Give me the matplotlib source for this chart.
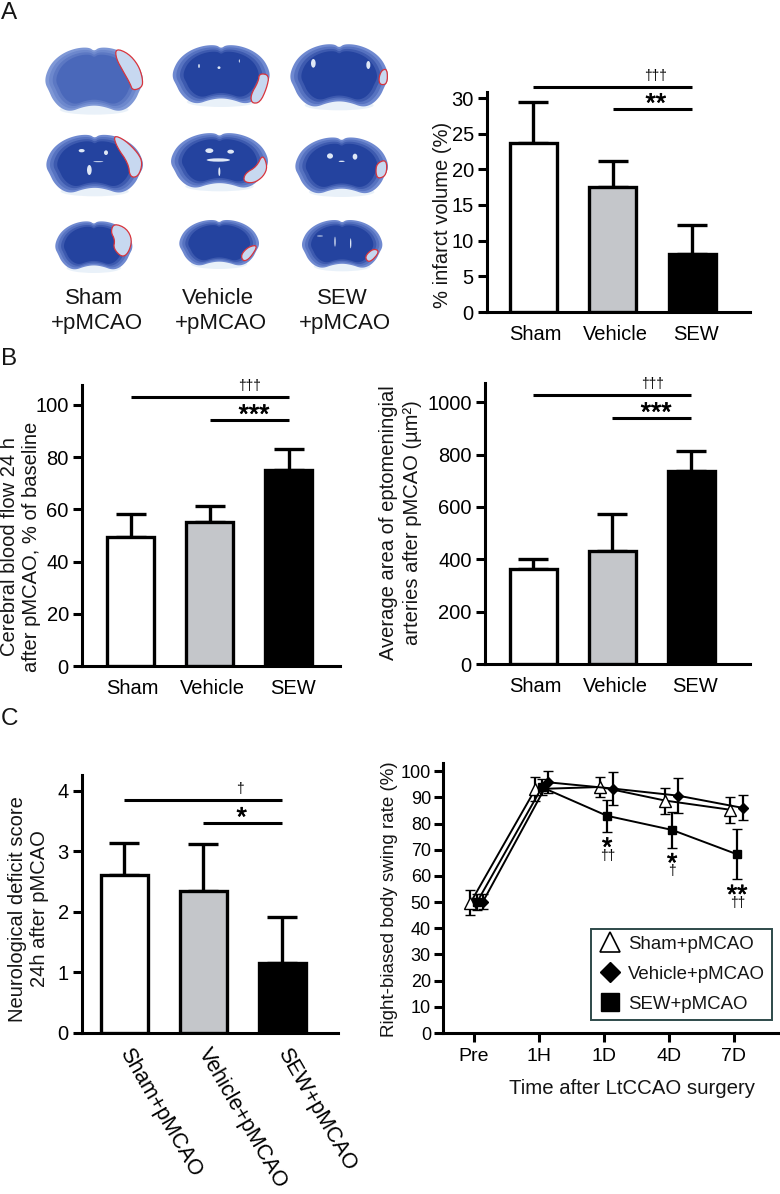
import numpy as np
import matplotlib
matplotlib.use("Agg")
import matplotlib.pyplot as plt
import matplotlib.patheffects as pe
from matplotlib.colors import to_rgb
from matplotlib.lines import Line2D
from matplotlib.patches import Ellipse, Polygon

plt.rcParams["font.family"] = ["Liberation Sans", "DejaVu Sans"]
plt.rcParams["text.color"] = "#151515"
plt.rcParams["axes.labelcolor"] = "#151515"

W, H = 780, 1194

groups = ["Sham", "Vehicle", "SEW"]
group_labels_c = ["Sham+pMCAO", "Vehicle+pMCAO", "SEW+pMCAO"]
bar_colors = ["white", "#c4c6ca", "black"]

infarct_vals = [23.7, 17.5, 8.1]
infarct_tops = [29.4, 21.2, 12.2]
flow_vals = [49.6, 55.3, 75.1]
flow_tops = [58.2, 61.4, 83.0]
area_vals = [363, 432, 739]
area_tops = [401, 575, 813]
score_vals = [2.61, 2.34, 1.155]
score_tops = [3.14, 3.12, 1.915]

times = ["Pre", "1H", "1D", "4D", "7D"]
sham_rate = [49.7, 93.2, 94.0, 88.8, 85.3]
sham_err = [4.8, 4.5, 3.8, 5.0, 4.9]
vehicle_rate = [50.2, 95.8, 93.4, 90.7, 86.0]
vehicle_err = [3.0, 4.2, 6.4, 6.6, 4.8]
sew_rate = [50.0, 93.9, 83.0, 77.6, 68.3]
sew_err = [3.0, 3.0, 6.2, 6.8, 9.6]

# brain sections, in reference pixels x3 (left, right, top, bottom, light?)
brain_boxes = [
    (135, 430, 140, 335, True), (517, 810, 133, 312, False), (870, 1165, 130, 322, False),
    (138, 430, 402, 580, False), (512, 805, 397, 565, False), (885, 1165, 410, 582, False),
    (165, 398, 662, 810, False), (537, 778, 658, 798, False), (905, 1148, 658, 805, False),
]
infarcts = [
    [(347, 145), (385, 160), (415, 195), (428, 235), (427, 262), (398, 272), (390, 250), (370, 215), (348, 175)],
    [(778, 220), (808, 225), (800, 265), (780, 308), (755, 310), (752, 285), (775, 245)],
    [(1145, 210), (1162, 207), (1162, 252), (1140, 255), (1136, 235)],
    [(340, 405), (375, 420), (415, 460), (428, 490), (415, 530), (390, 532), (385, 490), (350, 440)],
    [(788, 462), (803, 500), (790, 530), (760, 550), (730, 545), (735, 520), (770, 500)],
    [(1130, 490), (1160, 478), (1160, 525), (1135, 537), (1127, 520)],
    [(342, 670), (380, 685), (397, 720), (385, 760), (365, 772), (340, 745), (345, 720), (332, 695)],
    [(745, 740), (775, 735), (750, 775), (730, 785), (722, 765)],
    [(1120, 745), (1140, 755), (1108, 790), (1093, 770)],
]
white_spots = [
    (597, 198, 5, 12), (657, 203, 9, 8), (718, 183, 3, 10), (940, 190, 14, 26), (1105, 195, 12, 24),
    (245, 452, 18, 10), (268, 510, 14, 30), (318, 458, 12, 14), (295, 485, 30, 3),
    (628, 452, 24, 14), (692, 455, 20, 12), (655, 480, 70, 10), (658, 515, 6, 26),
    (990, 468, 18, 16), (1065, 470, 14, 18), (1025, 484, 18, 4),
    (960, 708, 18, 3), (1005, 725, 4, 30), (1052, 730, 4, 30),
]
brain_half = [(0.50, 0.07), (0.55, 0.01), (0.68, 0.02), (0.82, 0.10), (0.93, 0.24), (0.99, 0.42),
              (1.0, 0.56), (0.96, 0.68), (0.92, 0.82), (0.84, 0.95), (0.74, 1.0), (0.62, 0.93), (0.50, 0.90)]

# heavier asterisks, the plain glyph is too thin next to the reference
star_fx = [pe.withStroke(linewidth=0.5, foreground="black")]


def px_axes(left, right, top, bottom):
    ax = fig.add_axes([left / W, 1 - bottom / H, (right - left) / W, (bottom - top) / H])
    ax.patch.set_alpha(0)
    return ax


def smooth(points, rounds=3):
    pts = np.array(points, dtype=float)
    for _ in range(rounds):
        nxt = np.roll(pts, -1, axis=0)
        both = np.empty((len(pts) * 2, 2))
        both[0::2] = 0.75 * pts + 0.25 * nxt
        both[1::2] = 0.25 * pts + 0.75 * nxt
        pts = both
    return pts


def style_axes(ax, tick_size=14.5):
    for side in ["top", "right"]:
        ax.spines[side].set_visible(False)
    for side in ["left", "bottom"]:
        ax.spines[side].set_linewidth(2.2)
    ax.tick_params(axis="y", length=6.5, width=2.2, labelsize=tick_size, pad=3)


def bar_panel(box, c0, sp, per_px, values, tops, ticks, sig_y, sig_x, dag, star, dag_off, star_off):
    left, right, top, bottom = box
    ax = px_axes(left, right, top, bottom)
    x = np.arange(3)
    ax.errorbar(x, values, yerr=[np.zeros(3), np.array(tops) - np.array(values)], fmt="none",
                ecolor="black", elinewidth=2.4, capsize=10.8, capthick=2.4, zorder=2)
    ax.bar(x, values, width=47 / sp, color=bar_colors, edgecolor="black", linewidth=2.4, zorder=3)
    ax.set_xlim((left - c0) / sp, (right - c0) / sp)
    ax.set_ylim(0, (bottom - top) / per_px)
    ax.set_yticks(ticks)
    style_axes(ax)
    ax.set_xticks(x + np.array([0.03, 0.04, 0.05]))
    ax.set_xticklabels(groups, fontsize=14.5)
    ax.tick_params(axis="x", length=0, pad=9)
    for y, x0 in zip(sig_y, sig_x):
        ax.plot([x0, 2], [y, y], color="black", lw=2.2, clip_on=False, solid_capstyle="butt", zorder=4)
    ax.annotate(dag, (2, sig_y[0]), xytext=dag_off, textcoords="offset points", ha="center",
                va="baseline", fontsize=10, color="black", annotation_clip=False)
    ax.annotate(star, (2, sig_y[1]), xytext=star_off, textcoords="offset points", ha="center",
                va="baseline", fontsize=19, color="black", annotation_clip=False, path_effects=star_fx)
    return ax


fig = plt.figure(figsize=(W / 100, H / 100), dpi=100)

# overlay in reference pixels, for the photos and free text
over = fig.add_axes([0, 0, 1, 1], zorder=-1)
over.set_xlim(0, W)
over.set_ylim(H, 0)
over.axis("off")

half = np.array(brain_half)
mirror = np.column_stack([1 - half[::-1, 0], half[::-1, 1]])[1:-1]
outline = smooth(np.vstack([half, mirror]))

for (l, r, t, b, light), inf in zip(brain_boxes, infarcts):
    l, r, t, b = l / 3, r / 3, t / 3, b / 3
    cx, cy = (l + r) / 2, (t + b) / 2
    bw, bh = r - l, b - t
    over.add_patch(Ellipse((cx, b - 2), bw * 0.7, 10, color="#e4eef8", alpha=0.8, lw=0))
    rim = np.array(to_rgb("#7f98d6" if light else "#6f89d0"))
    core = np.array(to_rgb("#4a68ba" if light else "#24439f"))
    for k, scale in enumerate(np.linspace(1.0, 0.55, 7)):
        pts = (outline - 0.5) * [bw * scale, bh * scale] + [cx, cy]
        over.add_patch(Polygon(pts, closed=True, facecolor=rim + (core - rim) * min(k / 3, 1), edgecolor="none"))
    over.add_patch(Polygon(smooth(np.array(inf) / 3, 2), closed=True, facecolor="#c7d8f0",
                           edgecolor="#d8343c", linewidth=0.9))
for sx, sy, sw, sh in white_spots:
    over.add_patch(Ellipse((sx / 3, sy / 3), sw / 3, sh / 3, color="#dfe8f6", lw=0))

for cx, name in zip([94, 218, 342], groups):
    over.text(cx, 298, name, fontsize=16, ha="center", va="center")
    over.text(cx + 3, 324, "+pMCAO", fontsize=16, ha="center", va="center")

for letter, y in zip(["A", "B", "C"], [19, 365, 725]):
    over.text(1, y, letter, fontsize=17.5, ha="left", va="baseline")

# panel A
bar_panel((487, 750, 92, 312), 533, 79.5, 214 / 30, infarct_vals, infarct_tops, range(0, 31, 5),
          [31.5, 28.5], [0, 1], "†††", "**", (-26, 5), (-26, -2))
over.text(442, 215, "% infarct volume (%)", fontsize=14.5, rotation=90, ha="center", va="center")

# panel B
bar_panel((82, 340, 385, 666), 130.5, 79.2, 2.61, flow_vals, flow_tops, range(0, 101, 20),
          [103, 94.3], [0, 1], "†††", "***", (-28, 5), (-25, -2))
over.text(10, 547, "Cerebral blood flow 24 h", fontsize=14.5, rotation=90, ha="center", va="center")
over.text(32, 547, "after pMCAO, % of baseline", fontsize=14.5, rotation=90, ha="center", va="center")

bar_panel((485, 750, 383, 664), 533, 79, 0.2617, area_vals, area_tops, range(0, 1001, 200),
          [1029, 941], [0, 1], "†††", "***", (-28, 5), (-25, -2))
over.text(389, 523, "Average area of eptomeningial", fontsize=14.5, rotation=90, ha="center", va="center")
over.text(412, 523, "arteries after pMCAO (µm²)", fontsize=14.5, rotation=90, ha="center", va="center")

# panel C left
ax = bar_panel((82, 338, 775, 1033), 124, 79, 242.5 / 4, score_vals, score_tops, range(5),
               [3.85, 3.47], [0, 1], "†", "*", (-30, 5), (-29, -2))
ax.set_xticks(np.arange(3))
ax.set_xticklabels(group_labels_c, fontsize=15.5, rotation=-60, rotation_mode="anchor", ha="left", va="center")
ax.tick_params(axis="x", length=0, pad=12)
over.text(18, 909, "Neurological deficit score", fontsize=14.5, rotation=90, ha="center", va="center")
over.text(40, 909, "24h after pMCAO", fontsize=14.5, rotation=90, ha="center", va="center")

# panel C right
ax = px_axes(442.7, 778, 763, 1033)
x = np.arange(5)
series = [
    (sham_rate, sham_err, -0.056, "^", 8.6, "white"),
    (vehicle_rate, vehicle_err, 0.138, "D", 4.8, "black"),
    (sew_rate, sew_err, 0.046, "s", 6.4, "black"),
]
for rate, err, off, marker, ms, face in series:
    ax.errorbar(x + off, rate, yerr=err, color="black", lw=1.4, elinewidth=1.6, capsize=3.3, capthick=1.6,
                marker=marker, ms=ms, mfc=face, mec="black", mew=1.0)
ax.set_xlim((442.7 - 474) / 65, (778 - 474) / 65)
ax.set_ylim(0, 270 / 2.617)
ax.set_yticks(range(0, 101, 10))
style_axes(ax, 13)
ax.tick_params(axis="y", pad=2)
ax.set_xticks(x)
ax.set_xticklabels(times, fontsize=14)
ax.tick_params(axis="x", length=6.5, width=2.2, pad=4)
for i, star, dag in zip([2, 3, 4], ["*", "*", "**"], ["††", "†", "††"]):
    low = sew_rate[i] - sew_err[i]
    ax.annotate(star, (i + 0.05, low), xytext=(0, -17), textcoords="offset points", ha="center",
                va="baseline", fontsize=19, color="black", path_effects=star_fx)
    ax.annotate(dag, (i + 0.05, low), xytext=(0, -20), textcoords="offset points", ha="center",
                va="baseline", fontsize=10, color="black")
over.text(389, 899, "Right-biased body swing rate (%)", fontsize=13.5, rotation=90, ha="center", va="center")
over.text(632, 1088, "Time after LtCCAO surgery", fontsize=14.7, ha="center", va="center")

handles = [
    Line2D([], [], ls="none", marker="^", ms=14.5, mfc="white", mec="black", mew=1.2),
    Line2D([], [], ls="none", marker="D", ms=10, mfc="black", mec="black"),
    Line2D([], [], ls="none", marker="s", ms=13, mfc="black", mec="black"),
]
leg = ax.legend(handles, group_labels_c, loc="lower left", bbox_to_anchor=(591 / W, 1 - 1020 / H),
                bbox_transform=fig.transFigure, borderaxespad=0, fancybox=False, framealpha=1,
                edgecolor="#2e4a4a", fontsize=13.4, labelspacing=0.7, handletextpad=0.3,
                handlelength=1.3, borderpad=0.38)
leg.get_frame().set_linewidth(1.4)

plt.savefig("out.png", dpi=100)
plt.close()
